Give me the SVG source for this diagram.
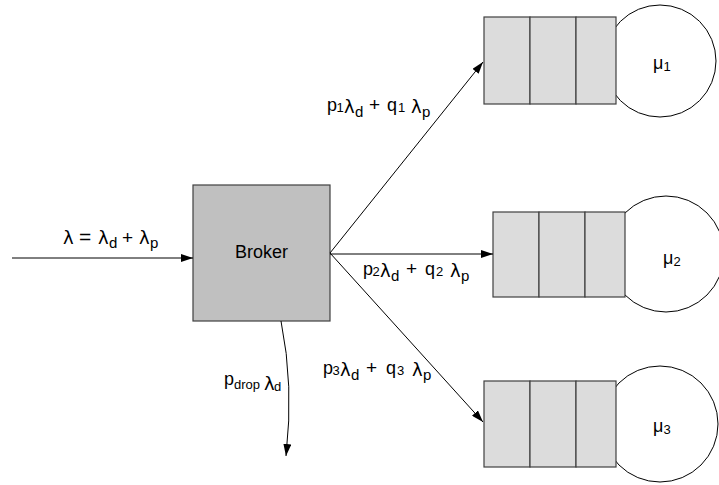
<svg xmlns="http://www.w3.org/2000/svg" width="719" height="485" viewBox="0 0 719 485">
  <style>
    .lbl { font-family: "Liberation Sans", Arial, sans-serif; font-size: 18px; fill: #000; }
    .gk { font-family: "DejaVu Sans", "Liberation Sans", sans-serif; font-size: 18px; }
    .sub { font-size: 15px; }
    .idx { font-size: 13px; }
    .edge { fill: none; stroke: #000; stroke-width: 1; }
    .slot { fill: #dcdcdc; stroke: #404040; stroke-width: 1.2; }
    .server { fill: #fff; stroke: #000; stroke-width: 1; }
  </style>
  <defs>
    <marker id="arrow" viewBox="0 0 12 8" refX="12" refY="4" markerWidth="12" markerHeight="8" markerUnits="userSpaceOnUse" orient="auto">
      <path d="M0,0 L12,4 L0,8 Z" fill="#000"/>
    </marker>
  </defs>

  <rect width="719" height="485" fill="#fff"/>

  <!-- broker -->
  <g id="broker">
    <rect x="193" y="185" width="137" height="136" fill="#c0c0c0" stroke="#404040" stroke-width="1.2"/>
    <text class="lbl" x="261.5" y="258" text-anchor="middle" font-size="19.5">Broker</text>
  </g>

  <!-- server queues: circle behind three slots -->
  <g id="queue1">
    <circle class="server" cx="660" cy="61" r="56"/>
    <rect class="slot" x="484" y="17" width="46" height="87"/>
    <rect class="slot" x="530" y="17" width="46" height="87"/>
    <rect class="slot" x="576" y="17" width="40" height="87"/>
    <text class="lbl" x="653" y="69" font-size="16">μ<tspan class="idx" dy="2">1</tspan></text>
  </g>
  <g id="queue2">
    <circle class="server" cx="666" cy="254" r="58"/>
    <rect class="slot" x="493" y="212" width="46" height="85"/>
    <rect class="slot" x="539" y="212" width="46" height="85"/>
    <rect class="slot" x="585" y="212" width="40" height="85"/>
    <text class="lbl" x="663" y="264" font-size="16">μ<tspan class="idx" dy="2">2</tspan></text>
  </g>
  <g id="queue3">
    <circle class="server" cx="660" cy="424" r="58"/>
    <rect class="slot" x="484" y="381" width="46" height="86"/>
    <rect class="slot" x="530" y="381" width="46" height="86"/>
    <rect class="slot" x="576" y="381" width="40" height="86"/>
    <text class="lbl" x="653" y="432" font-size="16">μ<tspan class="idx" dy="2">3</tspan></text>
  </g>

  <!-- connectors -->
  <g id="connectors">
    <line class="edge" x1="12" y1="258" x2="193" y2="258" marker-end="url(#arrow)"/>
    <line class="edge" x1="330" y1="253" x2="483" y2="62" marker-end="url(#arrow)"/>
    <line class="edge" x1="330" y1="254" x2="493" y2="254" marker-end="url(#arrow)"/>
    <line class="edge" x1="330" y1="253" x2="483" y2="422" marker-end="url(#arrow)"/>
    <path class="edge" d="M281,321 Q294,385 286,456" marker-end="url(#arrow)"/>
  </g>

  <!-- rate labels -->
  <g id="labels">
    <text class="lbl"><tspan class="gk" x="63" y="244">λ</tspan><tspan x="79" y="244" font-size="21">=</tspan><tspan class="gk" x="98" y="244">λ</tspan><tspan class="sub" x="109" y="248">d</tspan><tspan x="122" y="244" font-size="19">+</tspan><tspan class="gk" x="139" y="244">λ</tspan><tspan class="sub" x="150" y="248">p</tspan></text>

    <text class="lbl"><tspan x="327" y="111">p</tspan><tspan class="idx" x="336.5" y="112">1</tspan><tspan class="gk" x="344" y="113">λ</tspan><tspan class="sub" x="355" y="117">d</tspan><tspan x="369" y="111" font-size="19">+</tspan><tspan x="387" y="111">q</tspan><tspan class="idx" x="398" y="112">1</tspan><tspan class="gk" x="411" y="113">λ</tspan><tspan class="sub" x="422" y="117">p</tspan></text>

    <text class="lbl"><tspan x="363" y="275">p</tspan><tspan class="idx" x="372.5" y="276">2</tspan><tspan class="gk" x="380" y="277">λ</tspan><tspan class="sub" x="391" y="281">d</tspan><tspan x="406" y="275" font-size="19">+</tspan><tspan x="425" y="275">q</tspan><tspan class="idx" x="436" y="276">2</tspan><tspan class="gk" x="450" y="277">λ</tspan><tspan class="sub" x="461" y="281">p</tspan></text>

    <text class="lbl"><tspan x="323" y="374">p</tspan><tspan class="idx" x="332.5" y="375">3</tspan><tspan class="gk" x="340" y="376">λ</tspan><tspan class="sub" x="351" y="380">d</tspan><tspan x="366" y="374" font-size="19">+</tspan><tspan x="386" y="374">q</tspan><tspan class="idx" x="397" y="375">3</tspan><tspan class="gk" x="412" y="376">λ</tspan><tspan class="sub" x="423" y="380">p</tspan></text>

    <text class="lbl"><tspan x="224" y="385">p</tspan><tspan class="idx" x="234" y="389">drop</tspan><tspan class="gk" x="264" y="390" font-size="16">λ</tspan><tspan class="idx" x="274" y="391">d</tspan></text>
  </g>
</svg>
